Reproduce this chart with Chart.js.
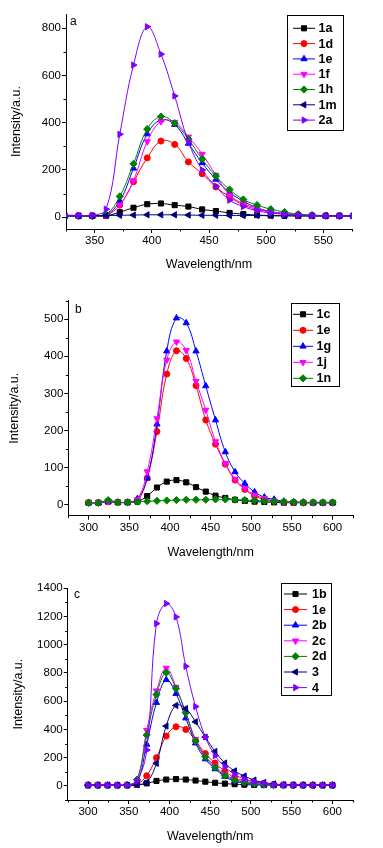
<!DOCTYPE html>
<html><head><meta charset="utf-8">
<script src="https://cdn.jsdelivr.net/npm/chart.js@4.4.1/dist/chart.umd.min.js"></script>
<style>
html,body{margin:0;padding:0;background:#fff;}
body{width:383px;height:848px;position:relative;overflow:hidden;}
canvas{position:absolute;left:0;}
</style></head><body>
<canvas id="ca" width="383" height="280" style="top:0px"></canvas>
<canvas id="cb" width="383" height="290" style="top:276px"></canvas>
<canvas id="cc" width="383" height="286" style="top:562px"></canvas>
<script>
// ---------- data ----------
const wavelength = [300,312,324,336,348,360,372,384,396,408,420,432,444,456,468,480,492,504,516,528,540,552,564,576,588,600];

// panel a
const labelsA = ['1a','1d','1e','1f','1h','1m','2a'];
const a_1a = [5,5,5,5,5,6,21,40,55,58,51,45,33,26,18,13,9,7,6,5,5,5,5,5,5,5];
const a_1d = [5,5,5,5,5,8,51,150,251,322,308,234,184,128,86,52,33,22,15,10,7,6,5,5,5,5];
const a_1e = [5,5,5,5,5,10,68,207,352,412,392,312,230,160,105,68,40,24,15,10,7,6,5,5,5,5];
const a_1f = [5,5,5,5,5,8,52,155,320,405,402,340,267,178,93,58,37,22,15,10,7,6,5,5,5,5];
const a_1h = [5,5,5,5,5,12,88,226,373,426,398,330,246,174,117,75,51,34,22,13,9,7,6,5,5,5];
const a_1m = [6,6,6,6,6,7,8,9,10,10,10,9,8,8,7,7,7,6,6,6,6,6,6,6,6,6];
const a_2a = [8,8,8,8,8,34,351,644,806,690,513,319,200,131,72,45,27,18,12,9,7,6,6,6,6,6];
const xTicksA = [350,400,450,500,550];
const yTicksA = [0,200,400,600,800];

// panel b
const labelsB = ['1c','1e','1g','1j','1n'];
const b_1c = [5,5,8,6,6,8,23,46,62,66,60,47,35,24,18,13,10,8,7,6,5,5,5,5,5,5];
const b_1e = [5,5,8,6,6,10,72,197,352,415,394,321,228,163,109,66,41,23,14,10,7,6,5,5,5,5];
const b_1g = [5,5,8,6,6,16,71,217,414,503,490,414,320,228,142,88,57,34,20,14,9,7,6,5,5,5];
const b_1j = [5,5,8,6,6,14,89,232,390,439,416,333,255,170,111,69,44,26,17,10,7,6,5,5,5,5];
const b_1n = [5,5,12,6,6,8,9,10,11,12,13,13,13,14,14,13,12,11,10,9,8,7,6,6,6,6];
const xTicksB = [300,350,400,450,500,550,600];
const yTicksB = [0,100,200,300,400,500];

// panel c
const labelsC = ['1b','1e','2b','2c','2d','3','4'];
const c_1b = [5,5,5,5,5,8,18,35,45,48,45,38,30,22,16,12,9,7,6,5,5,5,5,5,5,5];
const c_1e = [5,5,5,5,5,12,72,200,353,419,400,320,229,162,104,59,35,20,12,8,6,5,5,5,5,5];
const c_2b = [5,5,5,5,5,20,294,590,752,653,480,303,190,120,66,33,20,12,8,6,5,5,5,5,5,5];
const c_2c = [5,5,5,5,5,35,394,674,835,700,518,330,212,141,82,47,28,17,10,7,6,5,5,5,5,5];
const c_2d = [5,5,5,5,5,44,360,647,803,690,518,318,206,130,73,40,24,15,9,7,6,5,5,5,5,5];
const c_3  = [5,5,5,5,5,8,25,160,424,570,548,454,345,244,162,106,70,41,24,14,9,7,6,5,5,5];
const c_4  = [5,5,5,5,5,35,254,1150,1292,1197,847,562,347,215,135,82,47,30,18,10,7,6,5,5,5,5];
const xTicksC = [300,350,400,450,500,550,600];
const yTicksC = [0,200,400,600,800,1000,1200,1400];

// ---------- styles ----------
const FONT = "'Liberation Sans', Arial, Helvetica, sans-serif";
const C = {black:'#000000', red:'#ff0000', blue:'#0000ff', magenta:'#ff00ff', green:'#008000', navy:'#000080', violet:'#8000ff'};
const M = {
  square:['rect',0,3.6], circle:['circle',0,3], up:['triangle',0,3.6], down:['triangle',180,3.6],
  diamond:['rectRot',0,3.6], left:['triangle',270,3.6], right:['triangle',90,3.6]
};

function mk(label, values, color, mark, i, n) {
  return {
    label, data: wavelength.map((x, k) => ({x, y: values[k]})),
    borderColor: color, backgroundColor: color, borderWidth: 1,
    pointStyle: mark[0], pointRotation: mark[1], pointRadius: mark[2],
    pointBorderWidth: 1, pointBackgroundColor: color, pointBorderColor: color,
    tension: 0.4, fill: false, order: n - i
  };
}

const overlay = {
  id: 'overlay',
  afterDraw(chart, args, o) {
    const ctx = chart.ctx;
    const ca = chart.chartArea;
    const xs = chart.scales.x, ys = chart.scales.y;
    ctx.save();
    // minor ticks
    ctx.strokeStyle = '#000'; ctx.lineWidth = 1;
    [[xs, o.minorX], [ys, o.minorY]].forEach(([sc, step]) => {
      const majors = sc.ticks.map(t => t.value);
      for (let v = Math.ceil(sc.min / step) * step; v <= sc.max + 1e-9; v += step) {
        if (majors.some(m => Math.abs(m - v) < 1e-6)) continue;
        const p = Math.round(sc.getPixelForValue(v)) + 0.5;
        ctx.beginPath();
        if (sc.isHorizontal()) { ctx.moveTo(p, ca.bottom); ctx.lineTo(p, ca.bottom + 2.5); }
        else { ctx.moveTo(ca.left, p); ctx.lineTo(ca.left - 2.5, p); }
        ctx.stroke();
      }
    });
    // legend box
    const L = o.legend;
    ctx.fillStyle = '#fff';
    ctx.fillRect(L.x0, L.y0, L.x1 - L.x0, L.y1 - L.y0);
    ctx.strokeStyle = '#000'; ctx.lineWidth = 1;
    ctx.strokeRect(Math.round(L.x0) + 0.5, Math.round(L.y0) + 0.5, Math.round(L.x1 - L.x0), Math.round(L.y1 - L.y0));
    chart.data.datasets.forEach((ds, i) => {
      const y = L.row0 + i * L.dy;
      ctx.strokeStyle = ds.borderColor; ctx.lineWidth = 1;
      ctx.beginPath(); ctx.moveTo(L.lx0, y); ctx.lineTo(L.lx1, y); ctx.stroke();
      ctx.fillStyle = ds.backgroundColor;
      Chart.helpers.drawPoint(ctx, {pointStyle: ds.pointStyle, rotation: ds.pointRotation, radius: ds.pointRadius, borderWidth: 1}, (L.lx0 + L.lx1) / 2, y);
      ctx.fillStyle = '#000'; ctx.font = 'bold 12.5px ' + FONT;
      ctx.textBaseline = 'middle'; ctx.textAlign = 'left';
      ctx.fillText(ds.label, L.tx, y + 0.5);
    });
    // panel letter
    ctx.fillStyle = '#000'; ctx.font = '12px ' + FONT;
    ctx.textBaseline = 'middle'; ctx.textAlign = 'left';
    ctx.fillText(o.letter, o.lx, o.ly);
    ctx.restore();
  }
};

function axis(min, max, ticks, titleText, fitProp, fitVal) {
  return {
    type: 'linear', min, max, offset: false,
    afterBuildTicks: s => { s.ticks = ticks.map(v => ({value: v})); },
    afterFit: s => { s[fitProp] = fitVal; },
    ticks: { color: '#000', font: {family: FONT, size: 11.5}, padding: 1, maxRotation: 0, autoSkip: false,
             callback: v => String(v) },
    grid: { drawOnChartArea: false, drawTicks: true, tickLength: 4, color: '#000', lineWidth: 1 },
    border: { display: true, color: '#000', width: 1 },
    title: { display: true, text: titleText, color: '#000', font: {family: FONT, size: 12.5, lineHeight: 1.2}, padding: 0 }
  };
}

function build(id, datasets, g) {
  new Chart(document.getElementById(id), {
    type: 'line',
    data: { datasets },
    options: {
      responsive: false, animation: false, devicePixelRatio: 1,
      layout: { padding: g.pad },
      plugins: { legend: {display: false}, tooltip: {enabled: false}, overlay: g.overlay },
      scales: {
        x: axis(g.xr[0], g.xr[1], g.xt, 'Wavelength/nm', 'height', g.xh),
        y: axis(g.yr[0], g.yr[1], g.yt, 'Intensity/a.u.', 'width', g.yw)
      }
    },
    plugins: [overlay]
  });
}

const seriesA = [a_1a, a_1d, a_1e, a_1f, a_1h, a_1m, a_2a];
const colA = [C.black, C.red, C.blue, C.magenta, C.green, C.navy, C.violet];
const mkA = [M.square, M.circle, M.up, M.down, M.diamond, M.left, M.right];
build('ca', seriesA.map((s, i) => mk(labelsA[i], s, colA[i], mkA[i], i, seriesA.length)), {
  pad: {left: 9.2, right: 31, top: 14, bottom: 7.5},
  xr: [325, 575], yr: [-50, 860], xt: xTicksA, yt: yTicksA, xh: 43.5, yw: 56.8,
  overlay: { minorX: 25, minorY: 100, letter: 'a', lx: 70, ly: 22,
    legend: {x0: 287, y0: 15, x1: 343, y1: 130, row0: 28.3, dy: 15.3, lx0: 293, lx1: 315, tx: 318.5} }
});

const seriesB = [b_1c, b_1e, b_1g, b_1j, b_1n];
const colB = [C.black, C.red, C.blue, C.magenta, C.green];
const mkB = [M.square, M.circle, M.up, M.down, M.diamond];
build('cb', seriesB.map((s, i) => mk(labelsB[i], s, colB[i], mkB[i], i, seriesB.length)), {
  pad: {left: 7.5, right: 30, top: 24.7, bottom: 5.5},
  xr: [275, 625], yr: [-30, 550], xt: xTicksB, yt: yTicksB, xh: 44.8, yw: 60.8,
  overlay: { minorX: 25, minorY: 50, letter: 'b', lx: 75, ly: 34,
    legend: {x0: 290.5, y0: 27.3, x1: 338.5, y1: 110, row0: 38.3, dy: 16, lx0: 293, lx1: 313, tx: 316.5} }
});

const seriesC = [c_1b, c_1e, c_2b, c_2c, c_2d, c_3, c_4];
const colC = [C.black, C.red, C.blue, C.magenta, C.green, C.navy, C.violet];
const mkC = [M.square, M.circle, M.up, M.down, M.diamond, M.left, M.right];
build('cc', seriesC.map((s, i) => mk(labelsC[i], s, colC[i], mkC[i], i, seriesC.length)), {
  pad: {left: 10.8, right: 30.3, top: 26.3, bottom: 3.5},
  xr: [275, 625], yr: [-100, 1400], xt: xTicksC, yt: yTicksC, xh: 44.5, yw: 56.9,
  overlay: { minorX: 25, minorY: 100, letter: 'c', lx: 74, ly: 33,
    legend: {x0: 281, y0: 21.3, x1: 331, y1: 133, row0: 32, dy: 15.6, lx0: 284, lx1: 307, tx: 312} }
});
</script>
</body></html>
